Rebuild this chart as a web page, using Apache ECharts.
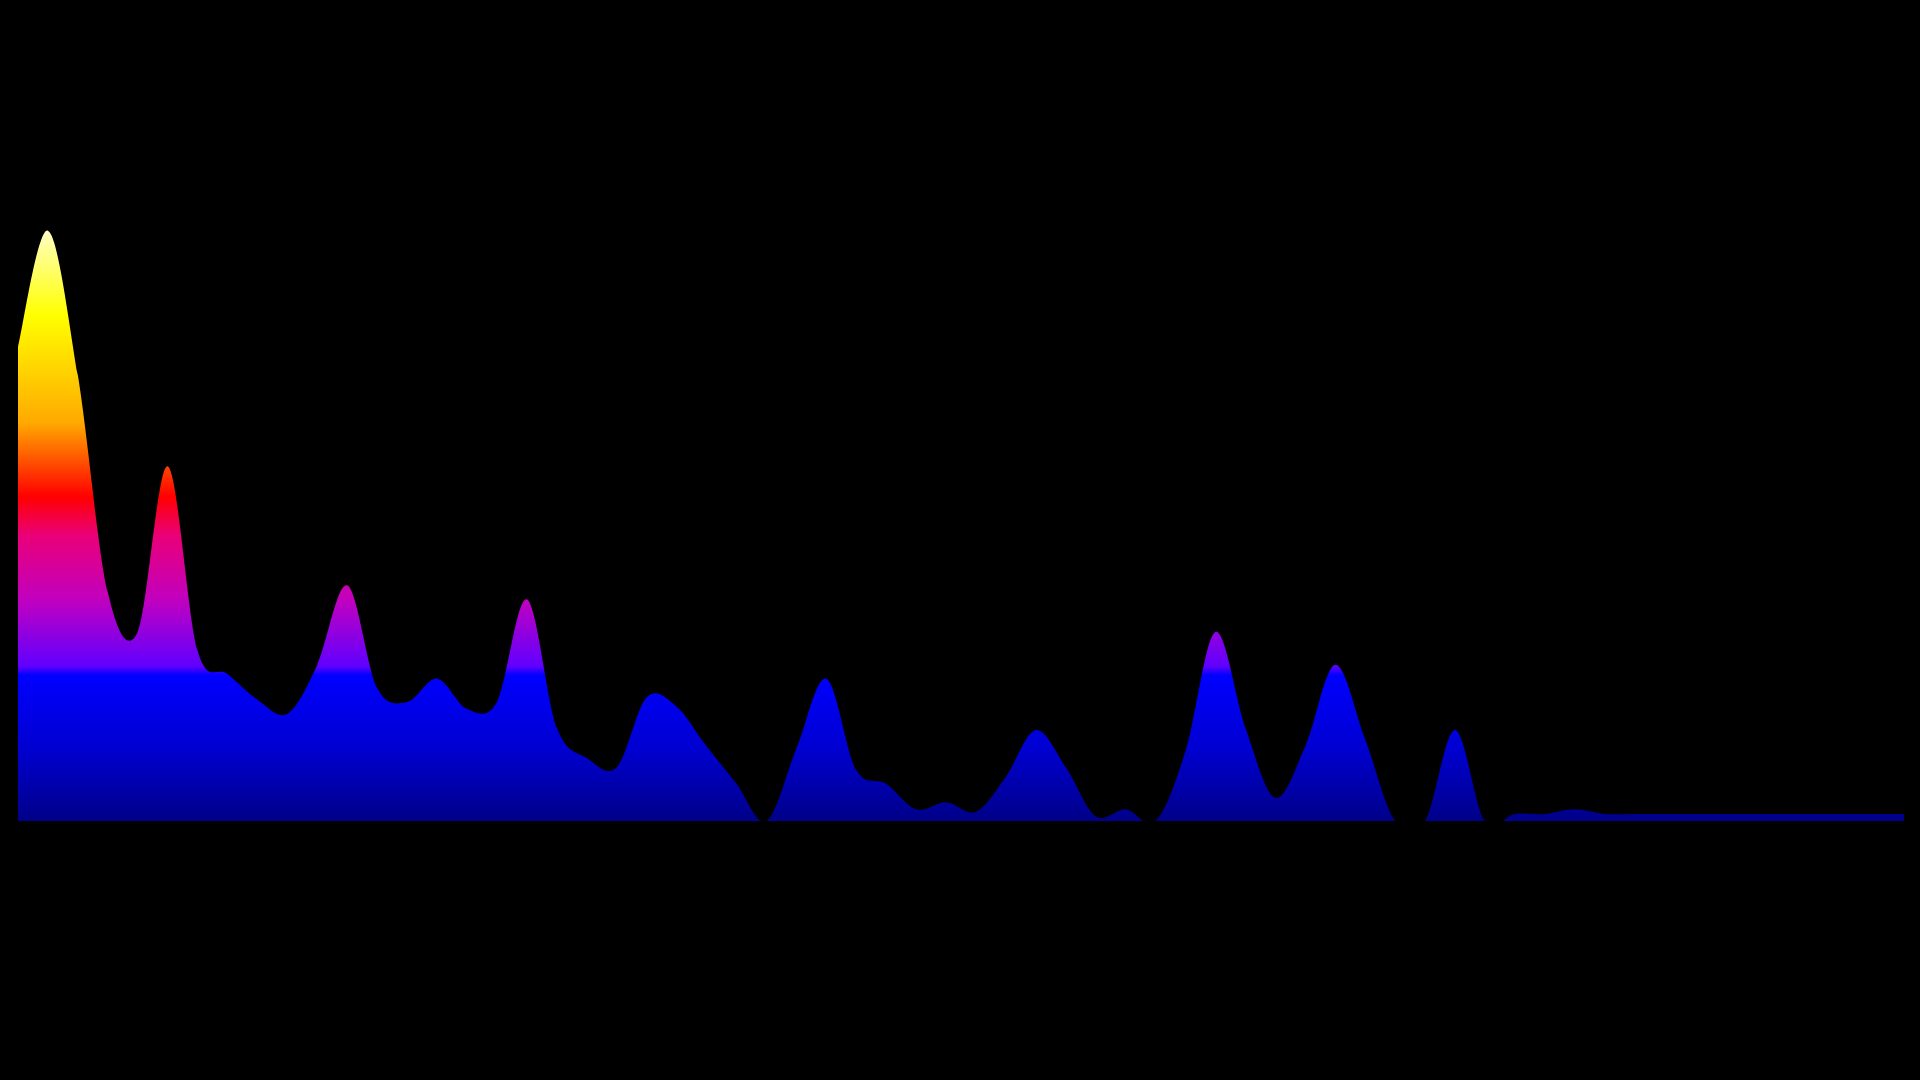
<!DOCTYPE html>
<html>
<head>
<meta charset="utf-8">
<title>spectrum</title>
<script src="https://cdn.jsdelivr.net/npm/echarts@6/dist/echarts.min.js"></script>
<style>
  html, body { margin: 0; padding: 0; background: #000; }
  #main { width: 1920px; height: 1080px; }
</style>
</head>
<body>
<div id="main"></div>
<script>
// frequency bins (64) and their levels, 0-255
const bins = []
for (let i = 0; i < 64; i++) bins.push(i)
const levels = [
  203, 253, 191, 98, 81, 152, 73, 63, 52, 46,
  67, 101, 57, 51, 61, 48, 51, 95, 40, 27,
  23, 53, 49, 32, 16, 0, 31, 61, 22, 16,
  5, 8, 4, 19, 39, 23, 2, 5, 0, 30,
  81, 40, 10, 32, 67, 35, 0, 0, 39, 0,
  3, 3, 5, 3, 3, 3, 3, 3, 3, 3,
  3, 3, 3, 3
]

const chart = echarts.init(document.getElementById('main'))

// gradient pinned to the plot area (top of peak -> baseline)
const fill = new echarts.graphic.LinearGradient(0, 226, 0, 821, [
  { offset: 0, color: '#ffffcc' },
  { offset: 0.15, color: '#ffff00' },
  { offset: 0.33, color: '#ffaa00' },
  { offset: 0.455, color: '#ff0000' },
  { offset: 0.52, color: '#ea0078' },
  { offset: 0.63, color: '#c000c0' },
  { offset: 0.74, color: '#6000ff' },
  { offset: 0.755, color: '#0000ff' },
  { offset: 0.88, color: '#0000d0' },
  { offset: 1, color: '#000088' }
], true)

// catmull-rom curve through every level, closed on the baseline
function renderSpectrum(params, api) {
  const pts = levels.map((v, i) => api.coord([i, v]))
  const base = api.coord([0, 0])[1]
  const n = pts.length
  let d = 'M' + pts[0][0] + ',' + base + 'L' + pts[0][0] + ',' + pts[0][1]
  for (let i = 0; i < n - 1; i++) {
    const p0 = pts[i > 0 ? i - 1 : i]
    const p1 = pts[i]
    const p2 = pts[i + 1]
    const p3 = pts[i + 2 < n ? i + 2 : i + 1]
    const c1x = p1[0] + (p2[0] - p0[0]) / 6
    const c1y = p1[1] + (p2[1] - p0[1]) / 6
    const c2x = p2[0] - (p3[0] - p1[0]) / 6
    const c2y = p2[1] - (p3[1] - p1[1]) / 6
    d += 'C' + c1x + ',' + c1y + ',' + c2x + ',' + c2y + ',' + p2[0] + ',' + p2[1]
  }
  d += 'L' + pts[n - 1][0] + ',' + base + 'Z'
  const cs = params.coordSys
  return {
    type: 'path',
    shape: { pathData: d },
    style: { fill: fill, stroke: null },
    // curve dips below zero between empty bins: cut it at the baseline
    clipPath: {
      type: 'rect',
      shape: { x: cs.x, y: cs.y - 40, width: cs.width, height: cs.height + 40 }
    },
    silent: true
  }
}

const option = {
  backgroundColor: '#000',
  animation: false,
  grid: {
    left: 18,
    right: 16,
    top: 226,
    bottom: 259
  },
  xAxis: {
    type: 'category',
    data: bins,
    boundaryGap: false,
    show: false
  },
  yAxis: {
    type: 'value',
    min: 0,
    max: 255,
    show: false
  },
  series: [
    {
      type: 'custom',
      renderItem: renderSpectrum,
      data: [[0, 0]],
      encode: { x: 0, y: 1 }
    }
  ]
}

chart.setOption(option)
</script>
</body>
</html>
